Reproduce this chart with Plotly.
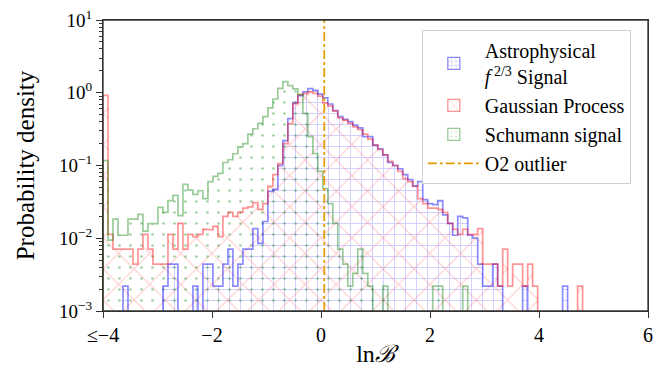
import numpy as np
import plotly.graph_objects as go

# ---------------- data ----------------
bin_lo = -4.0
bin_hi = 4.8
n_bins = 96

astro = [0, 0, 0, 0, 0.0022, 0, 0, 0, 0, 0, 0, 0, 0.0022, 0.0044, 0.0044, 0, 0, 0, 0.0022, 0,
         0.0044, 0.0044, 0.0022, 0.0022, 0.0044, 0.0071, 0.0022, 0.0044, 0.0071, 0.0071,
         0.0136, 0.0085, 0.017, 0.044, 0.047, 0.10, 0.22, 0.44, 0.73, 0.91,
         1.03, 1.14, 1.08, 0.96, 0.85, 0.70, 0.57, 0.47, 0.43, 0.40,
         0.36, 0.33, 0.25, 0.25, 0.19, 0.17, 0.14, 0.11, 0.10, 0.09,
         0.075, 0.064, 0.052, 0.060, 0.034, 0.030, 0.029, 0.033, 0.021, 0.016,
         0.011, 0.020, 0.019, 0.011, 0.010, 0.0044, 0.0022, 0.0022, 0.0044, 0.0022,
         0, 0, 0, 0, 0.0022, 0, 0, 0, 0, 0, 0, 0, 0.0022, 0, 0, 0]

gauss = [0.92, 0.0113, 0.0071, 0.0071, 0.0071, 0.0071, 0.0044, 0.0071, 0.0113, 0.0071,
         0.0044, 0.0044, 0.0044, 0.0113, 0.0071, 0.016, 0.0071, 0.0113, 0.0105, 0.0113,
         0.0133, 0.013, 0.0146, 0.0105, 0.020, 0.0227, 0.020, 0.0227, 0.026, 0.027,
         0.031, 0.025, 0.030, 0.0515, 0.075, 0.106, 0.20, 0.376, 0.71, 0.94,
         0.97, 1.03, 0.98, 0.90, 0.72, 0.66, 0.56, 0.45, 0.42, 0.38,
         0.34, 0.31, 0.27, 0.23, 0.19, 0.166, 0.14, 0.114, 0.10, 0.083,
         0.066, 0.06, 0.052, 0.035, 0.030, 0.026, 0.026, 0.025, 0.0227, 0.016,
         0.0133, 0.0113, 0.0133, 0.0113, 0.0113, 0.0136, 0.0044, 0.0044, 0.0044, 0.0022,
         0.0071, 0.0022, 0.0044, 0.0044, 0.0022, 0.0044, 0.0022, 0, 0, 0,
         0, 0, 0, 0, 0, 0.0022]

schumann = [0.117, 0.0094, 0.0183, 0.011, 0.011, 0.0183, 0.0183, 0.0213, 0.0125, 0.0159,
            0.0159, 0.0266, 0.0227, 0.033, 0.0388, 0.0205, 0.055, 0.046, 0.040, 0.045,
            0.035, 0.060, 0.071, 0.078, 0.11, 0.12, 0.145, 0.18, 0.20, 0.27,
            0.32, 0.38, 0.47, 0.62, 0.82, 1.15, 1.42, 1.25, 1.13, 0.94,
            0.52, 0.25, 0.146, 0.083, 0.048, 0.030, 0.016, 0.0071, 0.0044, 0.0022,
            0.0033, 0.0071, 0.0033, 0.0022, 0, 0, 0.0022, 0, 0, 0,
            0, 0, 0, 0, 0, 0, 0.0022, 0.0022, 0, 0,
            0, 0, 0.0022, 0, 0, 0, 0, 0, 0, 0,
            0, 0, 0, 0, 0, 0, 0, 0, 0, 0,
            0, 0, 0, 0, 0, 0]

o2_outlier = 0.06

x_ticks = [-4, -2, 0, 2, 4, 6]
x_tick_text = ["≤−4", "−2", "0", "2", "4", "6"]
y_ticks = [1e-3, 1e-2, 1e-1, 1e0, 1e1]
y_tick_text = ["10<sup>−3</sup>", "10<sup>−2</sup>", "10<sup>−1</sup>", "10<sup>0</sup>", "10<sup>1</sup>"]

names = ["Astrophysical<br><i>f</i><sup> 2/3</sup> Signal", "Gaussian Process", "Schumann signal"]

# ---------------- figure ----------------
edges = np.linspace(bin_lo, bin_hi, n_bins + 1)
centers = 0.5 * (edges[:-1] + edges[1:])
width = edges[1] - edges[0]
floor = 1e-6  # below visible range so empty bins drop to the axis

styles = [
    dict(shape="+", fg="rgba(0,0,255,0.36)", line="rgba(0,0,255,0.45)", size=11, sol=0.17),
    dict(shape="x", fg="rgba(255,0,0,0.40)", line="rgba(255,0,0,0.42)", size=22, sol=0.10),
    dict(shape=".", fg="rgba(0,128,0,0.75)", line="rgba(0,128,0,0.40)", size=11, sol=0.045),
]
series = [astro, gauss, schumann]

FONT = "Liberation Serif"
fig = go.Figure()

for vals, st in zip(series, styles):
    vals = np.asarray(vals, dtype=float)
    ybar = [v if v > 0 else None for v in vals]
    fig.add_trace(go.Bar(
        x=centers, y=ybar, width=width, showlegend=False, hoverinfo="skip",
        marker=dict(color="rgba(0,0,0,0)", line=dict(width=0),
                    pattern=dict(shape=st["shape"], fgcolor=st["fg"], bgcolor="rgba(0,0,0,0)",
                                 size=st["size"], solidity=st["sol"], fillmode="overlay")),
    ))
    sx, sy = [edges[0]], [floor]
    for i, v in enumerate(vals):
        vv = v if v > 0 else floor
        sx += [edges[i], edges[i + 1]]
        sy += [vv, vv]
    sx.append(edges[-1]); sy.append(floor)
    fig.add_trace(go.Scatter(x=sx, y=sy, mode="lines", showlegend=False, hoverinfo="skip",
                             line=dict(color=st["line"], width=1.7)))

# legend proxies
for i, (st, nm) in enumerate(zip(styles, names)):
    fig.add_trace(go.Bar(
        x=[None], y=[None], name=nm, legendrank=i + 1,
        marker=dict(color="rgba(0,0,0,0)", line=dict(color=st["line"], width=1.3),
                    pattern=dict(shape=st["shape"], fgcolor=st["fg"], bgcolor="rgba(0,0,0,0)",
                                 size=max(st["size"] / 2, 5), solidity=st["sol"] * 1.5,
                                 fillmode="overlay")),
    ))

fig.add_trace(go.Scatter(x=[None], y=[None], mode="lines", name="O2 outlier", legendrank=4,
                         line=dict(color="#E39B00", width=1.7, dash="dashdot")))
fig.add_vline(x=o2_outlier, line=dict(color="#E39B00", width=1.7, dash="dashdot"))

# frame
fig.add_shape(type="rect", xref="paper", yref="paper", x0=0, x1=1, y0=0, y1=1,
              line=dict(color="#333333", width=1.3), fillcolor="rgba(0,0,0,0)", layer="above")

minor_vals = [m * 10.0 ** e for e in range(-3, 1) for m in range(2, 10)]

# the page body adds an 8px offset, so the figure is sized/margined to compensate
fig.update_layout(
    width=654, height=361,
    margin=dict(l=95, r=14, t=12, b=58, autoexpand=False),
    paper_bgcolor="white", plot_bgcolor="white",
    barmode="overlay", bargap=0,
    font=dict(family=FONT, size=18, color="black"),
    legend=dict(x=0.585, y=0.966, xanchor="left", yanchor="top",
                bgcolor="rgba(255,255,255,0.85)", bordercolor="#d0d0d0", borderwidth=1,
                font=dict(family=FONT, size=20, color="black"), itemwidth=52),
)
fig.update_xaxes(range=[-4, 6], tickvals=x_ticks, ticktext=x_tick_text, automargin=False,
                 ticklabeloverflow="allow",
                 showline=True, linecolor="#333333", linewidth=1.3, mirror=True,
                 ticks="outside", ticklen=6, tickwidth=1.3, tickcolor="#333333",
                 showgrid=False, zeroline=False,
                 title=dict(text="ln<i>ℬ</i>", font=dict(family=FONT, size=24, color="black"), standoff=0),
                 tickfont=dict(family=FONT, size=20, color="black"))
fig.update_yaxes(type="log", range=[-3, 1], tickvals=y_ticks, ticktext=y_tick_text, automargin=False,
                 ticklabeloverflow="allow",
                 showline=True, linecolor="#333333", linewidth=1.3, mirror=True,
                 ticks="outside", ticklen=6, tickwidth=1.3, tickcolor="#333333",
                 minor=dict(tickvals=minor_vals, ticks="outside", ticklen=3, tickwidth=0.9,
                            tickcolor="#333333", showgrid=False),
                 showgrid=False, zeroline=False,
                 title=dict(text="Probability density", font=dict(family=FONT, size=25, color="black"),
                            standoff=17),
                 tickfont=dict(family=FONT, size=19, color="black"))

fig.write_html("out.html")
